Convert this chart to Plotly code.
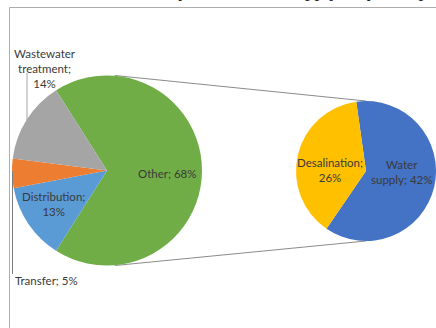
import plotly.graph_objects as go

W, H = 436, 328

# Energy use breakdown: main pie, with "Other" split out into a second pie
main_names = ["Wastewater treatment", "Transfer", "Distribution", "Other"]
main_values = [14, 5, 13, 68]
main_colors = ["#A5A5A5", "#ED7D31", "#5B9BD5", "#70AD47"]
main_label_fmt = ["Wastewater<br>treatment;<br>{}%", "Transfer; {}%",
                  "Distribution;<br>{}%", "Other; {}%"]

detail_names = ["Water supply", "Desalination"]
detail_values = [42, 26]
detail_colors = ["#4472C4", "#FFC000"]
detail_label_fmt = ["Water<br>supply; {}%", "Desalination;<br>{}%"]

# geometry in pixels (centre x, centre y, radius)
C1 = (107.0, 170.5, 95.0)
C2 = (366.0, 171.0, 70.0)


def px(x):
    return x / W


def py(y):
    return 1 - y / H


def domain(c):
    cx, cy, r = c
    return dict(x=[px(cx - r), px(cx + r)], y=[py(cy + r), py(cy - r)])


other_share = main_values[-1] / sum(main_values)

# drawn clockwise starting with "Other", so that slice faces the detail pie
fig = go.Figure()
fig.add_trace(go.Pie(
    labels=main_names[::-1], values=main_values[::-1], sort=False,
    direction="clockwise", rotation=90 - 360 * other_share / 2,
    marker=dict(colors=main_colors[::-1], line=dict(width=0)),
    textinfo="none", hoverinfo="skip", showlegend=False,
    domain=domain(C1),
))
fig.add_trace(go.Pie(
    labels=detail_names, values=detail_values, sort=False,
    direction="clockwise", rotation=-8,
    marker=dict(colors=detail_colors, line=dict(width=0)),
    textinfo="none", hoverinfo="skip", showlegend=False,
    domain=domain(C2),
))

LINE = "#8C8C8C"
shapes = []
# connectors from the main pie to the detail pie
for s in (-1, 1):
    shapes.append(dict(type="line", xref="paper", yref="paper", layer="below",
                       x0=px(C1[0] + 8), y0=py(C1[1] + s * C1[2]),
                       x1=px(C2[0]), y1=py(C2[1] + s * C2[2]),
                       line=dict(color=LINE, width=1.2)))
# frame
shapes.append(dict(type="line", xref="paper", yref="paper",
                   x0=px(9.5), y0=py(7.5), x1=1, y1=py(7.5),
                   line=dict(color="#ADADAD", width=1)))
shapes.append(dict(type="line", xref="paper", yref="paper",
                   x0=px(9.5), y0=py(7.5), x1=px(9.5), y1=0,
                   line=dict(color="#ADADAD", width=1)))
# label leader lines
shapes.append(dict(type="line", xref="paper", yref="paper",
                   x0=px(27), y0=py(73), x1=px(27), y1=py(120),
                   line=dict(color="#A6A6A6", width=1)))
shapes.append(dict(type="line", xref="paper", yref="paper",
                   x0=px(12.5), y0=py(171), x1=px(12.5), y1=py(274),
                   line=dict(color="#7F7F7F", width=1)))

FONT = dict(family="Lato, Carlito, sans-serif", size=11.5, color="#3A3A3A")
main_pos = [(45, 69, "center"), (13, 280, "left"), (53, 204, "center"), (167, 173, "center")]
detail_pos = [(401, 172, "center"), (330, 170, "center")]

annotations = []
for fmt, v, (x, y, anc) in zip(main_label_fmt, main_values, main_pos):
    annotations.append(dict(text=fmt.format(v), x=px(x), y=py(y), xref="paper", yref="paper",
                            xanchor=anc, yanchor="middle", showarrow=False,
                            font=FONT, align="center"))
for fmt, v, (x, y, anc) in zip(detail_label_fmt, detail_values, detail_pos):
    annotations.append(dict(text=fmt.format(v), x=px(x), y=py(y), xref="paper", yref="paper",
                            xanchor=anc, yanchor="middle", showarrow=False,
                            font=FONT, align="center"))

# preceding body text line, mostly above the page edge
annotations.append(dict(text="both the sustainability of the water supply may be repaired",
                        x=px(18), y=py(3.5), xref="paper", yref="paper",
                        xanchor="left", yanchor="bottom", showarrow=False,
                        font=dict(family="Liberation Serif", size=19, color="#222222")))

fig.update_layout(
    width=W, height=H, margin=dict(l=0, r=0, t=0, b=0),
    paper_bgcolor="white", plot_bgcolor="white",
    shapes=shapes, annotations=annotations,
)

fig.write_html("out.html")
